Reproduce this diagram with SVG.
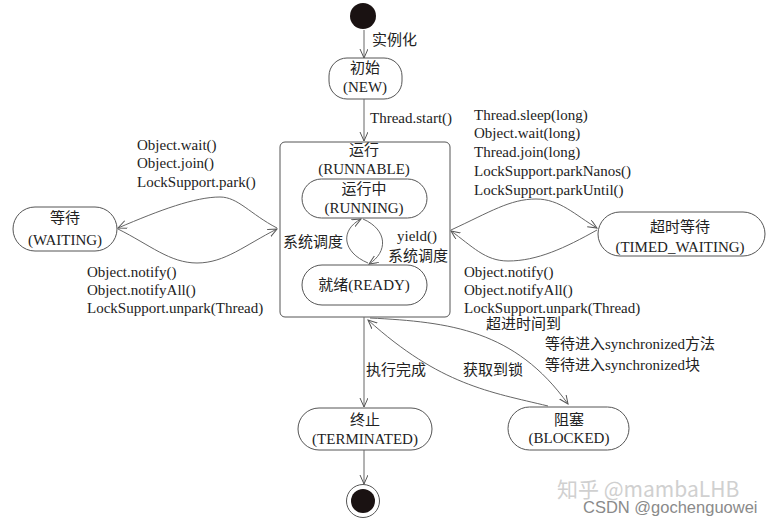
<svg xmlns="http://www.w3.org/2000/svg" width="775" height="526" viewBox="0 0 775 526">
<defs>
<marker id="arr" markerWidth="12" markerHeight="10" refX="9" refY="4" orient="auto" markerUnits="userSpaceOnUse">
<path d="M0,0 L9,4 L0,8" fill="none" stroke="#555" stroke-width="1"/>
</marker>
<style>
.t{font-family:"Liberation Serif","Noto Sans CJK SC",serif;font-size:15px;fill:#222}
.m{text-anchor:middle}
.n{fill:#fff;stroke:#555;stroke-width:1}
.c{fill:none;stroke:#666;stroke-width:1;marker-end:url(#arr)}
</style>
</defs>
<rect width="775" height="526" fill="#fff"/>

<g id="start"><circle cx="363" cy="16" r="13" fill="#1a1212"/></g>

<g id="new">
<rect class="n" x="329" y="58" width="73" height="41" rx="18"/>
<text class="t m" x="365" y="73">初始</text>
<text class="t m" x="365" y="92">(NEW)</text>
</g>

<g id="runnable">
<rect class="n" x="280" y="142" width="170" height="175" rx="5"/>
<text class="t m" x="364" y="155">运行</text>
<text class="t m" x="364" y="174">(RUNNABLE)</text>
</g>

<g id="running">
<rect class="n" x="302" y="179" width="125" height="39" rx="19.5"/>
<text class="t m" x="364" y="194">运行中</text>
<text class="t m" x="364" y="213">(RUNNING)</text>
</g>

<g id="ready">
<rect class="n" x="302" y="265" width="125" height="40" rx="20"/>
<text class="t m" x="364" y="290">就绪(READY)</text>
</g>

<g id="waiting">
<rect class="n" x="13" y="207" width="104" height="44" rx="22"/>
<text class="t m" x="65" y="223">等待</text>
<text class="t m" x="65" y="245">(WAITING)</text>
</g>

<g id="timed_waiting">
<rect class="n" x="598" y="212" width="167" height="44" rx="22"/>
<text class="t m" x="680" y="232">超时等待</text>
<text class="t m" x="680" y="252">(TIMED_WAITING)</text>
</g>

<g id="terminated">
<rect class="n" x="298" y="408" width="134" height="42" rx="21"/>
<text class="t m" x="365" y="425">终止</text>
<text class="t m" x="365" y="444">(TERMINATED)</text>
</g>

<g id="blocked">
<rect class="n" x="508" y="407" width="121" height="43" rx="21.5"/>
<text class="t m" x="569" y="425">阻塞</text>
<text class="t m" x="569" y="443">(BLOCKED)</text>
</g>

<g id="end">
<circle cx="363" cy="501" r="16.5" fill="#fff" stroke="#555" stroke-width="1"/>
<circle cx="363" cy="501" r="12" fill="#1a1212"/>
</g>

<g id="connectors">
<path class="c" d="M364,30 L364,58"/>
<path class="c" d="M364,99 L364,141"/>
<path class="c" d="M368,263 C342,252 340,230 361,219"/>
<path class="c" d="M363,219 C388,230 388,252 369,264"/>
<path class="c" d="M277,228 C250,214 238,197 220,197 C195,197 160,210 118,228"/>
<path class="c" d="M118,229 C150,245 170,263 197,263 C225,263 245,245 277,229"/>
<path class="c" d="M451,230 C490,212 510,199 536,199 C560,199 575,215 597,228"/>
<path class="c" d="M597,230 C565,248 537,261 508,261 C485,261 472,246 451,231"/>
<path class="c" d="M364,317 L364,407"/>
<path class="c" d="M364,450 L364,484"/>
<path class="c" d="M548,406 C490,392 440,385 368,320"/>
<path class="c" d="M370,318 C450,322 515,330 568,404"/>
</g>

<g id="labels">
<text class="t" x="372" y="45">实例化</text>
<text class="t" x="370" y="123">Thread.start()</text>
<text class="t" x="137" y="150">Object.wait()</text>
<text class="t" x="137" y="168">Object.join()</text>
<text class="t" x="137" y="187">LockSupport.park()</text>
<text class="t" x="87" y="277">Object.notify()</text>
<text class="t" x="87" y="295">Object.notifyAll()</text>
<text class="t" x="87" y="313">LockSupport.unpark(Thread)</text>
<text class="t" x="474" y="120">Thread.sleep(long)</text>
<text class="t" x="474" y="138">Object.wait(long)</text>
<text class="t" x="474" y="157">Thread.join(long)</text>
<text class="t" x="474" y="176">LockSupport.parkNanos()</text>
<text class="t" x="474" y="195">LockSupport.parkUntil()</text>
<text class="t" x="464" y="277">Object.notify()</text>
<text class="t" x="464" y="295">Object.notifyAll()</text>
<text class="t" x="464" y="313">LockSupport.unpark(Thread)</text>
<text class="t" x="283" y="247">系统调度</text>
<text class="t" x="397" y="241">yield()</text>
<text class="t" x="388" y="261">系统调度</text>
<text class="t" x="486" y="329">超进时间到</text>
<text class="t" x="545" y="349">等待进入synchronized方法</text>
<text class="t" x="545" y="370">等待进入synchronized块</text>
<text class="t" x="366" y="375">执行完成</text>
<text class="t" x="463" y="375">获取到锁</text>
</g>

<g id="watermark">
<text x="557" y="497" font-family="'Noto Sans CJK SC','Liberation Sans',sans-serif" font-size="21" fill="#d0d0d0">知乎 @mambaLHB</text>
<text x="583" y="513" font-family="'Liberation Sans',sans-serif" font-size="16.5" fill="#8a8a8a">CSDN @gochenguowei</text>
</g>
</svg>
